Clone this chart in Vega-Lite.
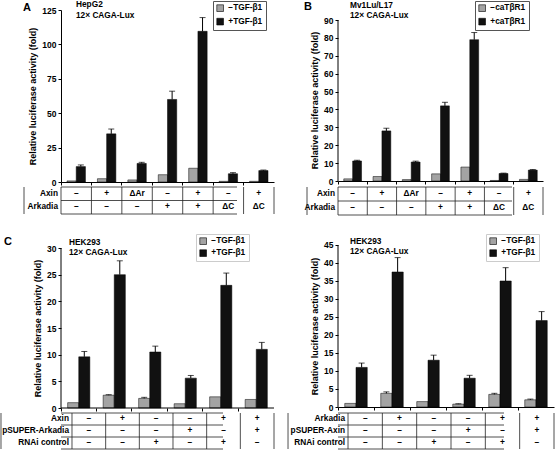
{
"$schema": "https://vega.github.io/schema/vega-lite/v6.json",
"padding": 0,
"config": {
  "font": "Liberation Sans",
  "view": {"stroke": null},
  "axis": {"labelFont": "Liberation Sans", "labelFontWeight": "bold", "labelFontSize": 8.5, "labelColor": "#000", "titleFont": "Liberation Sans", "titleFontWeight": "bold", "titleFontSize": 9, "titleColor": "#000", "domainColor": "#000", "tickColor": "#000", "tickSize": 3, "labelPadding": 2, "titlePadding": 4, "grid": false},
  "legend": {"title": null, "orient": "none", "symbolType": "square", "symbolSize": 45, "symbolStrokeColor": "#000", "symbolStrokeWidth": 0.6, "labelFont": "Liberation Sans", "labelFontSize": 8.3, "labelFontWeight": "bold", "labelColor": "#000", "labelOffset": 4, "padding": 3, "rowPadding": 3.5},
  "text": {"font": "Liberation Sans", "fontWeight": "bold", "fontSize": 8.3, "color": "#000"}
},
"columns": 2,
"align": "none",
"bounds": "flush",
"spacing": {"row": 5, "column": 55},
"resolve": {"scale": {"color": "independent", "x": "independent", "y": "independent", "xOffset": "independent"}, "legend": {"color": "independent"}},
"concat": [
 {
  "width": 213, "height": 172,
  "data": {"values": [
    {"g":"1","s":"−TGF-β1","v":0.8},
    {"g":"1","s":"+TGF-β1","v":11.2,"hi":12.4},
    {"g":"2","s":"−TGF-β1","v":2.4},
    {"g":"2","s":"+TGF-β1","v":35,"hi":38.5},
    {"g":"3","s":"−TGF-β1","v":1.5},
    {"g":"3","s":"+TGF-β1","v":13.5,"hi":14.3},
    {"g":"4","s":"−TGF-β1","v":5.3},
    {"g":"4","s":"+TGF-β1","v":60,"hi":66},
    {"g":"5","s":"−TGF-β1","v":10},
    {"g":"5","s":"+TGF-β1","v":109.5,"hi":119.5},
    {"g":"6","s":"−TGF-β1","v":0.5},
    {"g":"6","s":"+TGF-β1","v":6,"hi":6.8},
    {"g":"7","s":"−TGF-β1","v":0.5},
    {"g":"7","s":"+TGF-β1","v":8.3,"hi":8.7}
  ]},
  "layer": [
   {"mark": {"type": "bar", "stroke": "#000", "strokeWidth": 0.5},
    "encoding": {
      "x": {"field": "g", "type": "nominal", "sort": null, "scale": {"paddingInner": 0, "paddingOuter": 0}, "axis": {"title": null, "labels": false, "bandPosition": 0}},
      "xOffset": {"field": "s", "type": "nominal", "sort": ["−TGF-β1", "+TGF-β1"], "scale": {"paddingInner": 0, "paddingOuter": 0.65}},
      "y": {"field": "v", "type": "quantitative", "scale": {"domain": [0, 125], "nice": false}, "axis": {"values": [0, 25, 50, 75, 100, 125], "tickCount": 30, "labelOverlap": false, "title": "Relative luciferase activity (fold)"}},
      "color": {"field": "s", "type": "nominal", "scale": {"domain": ["−TGF-β1", "+TGF-β1"], "range": ["#a3a3a3", "#111111"]}, "legend": {"legendX": 152, "legendY": -9, "strokeColor": "#555"}}
    }},
   {"transform": [{"filter": "isValid(datum.hi)"}],
    "mark": {"type": "rule", "color": "#000", "strokeWidth": 1},
    "encoding": {"x": {"field": "g", "type": "nominal", "sort": null}, "xOffset": {"field": "s", "type": "nominal", "sort": ["−TGF-β1", "+TGF-β1"]}, "y": {"field": "v", "type": "quantitative"}, "y2": {"field": "hi"}}},
   {"transform": [{"filter": "isValid(datum.hi)"}],
    "mark": {"type": "tick", "color": "#000", "size": 6, "thickness": 1},
    "encoding": {"x": {"field": "g", "type": "nominal", "sort": null}, "xOffset": {"field": "s", "type": "nominal", "sort": ["−TGF-β1", "+TGF-β1"]}, "y": {"field": "hi", "type": "quantitative"}}},
   {"data": {"values": [{"t": "HepG2"}]},
    "mark": {"type": "text", "align": "left", "baseline": "middle", "dx": 15, "dy": -5},
    "encoding": {"x": {"datum": "1", "bandPosition": 0}, "y": {"datum": 125, "type": "quantitative"}, "text": {"field": "t"}}},
   {"data": {"values": [{"t": "12× CAGA-Lux"}]},
    "mark": {"type": "text", "align": "left", "baseline": "middle", "dx": 15, "dy": 6},
    "encoding": {"x": {"datum": "1", "bandPosition": 0}, "y": {"datum": 125, "type": "quantitative"}, "text": {"field": "t"}}},
   {"data": {"values": [{"t": "A"}]},
    "mark": {"type": "text", "align": "left", "baseline": "middle", "dx": -38, "dy": -2, "fontSize": 11},
    "encoding": {"x": {"datum": "1", "bandPosition": 0}, "y": {"datum": 125, "type": "quantitative"}, "text": {"field": "t"}}}
  ]
 },
 {
  "width": 205, "height": 171,
  "data": {"values": [
    {"g":"1","s":"−caTβR1","v":1.2},
    {"g":"1","s":"+caTβR1","v":11.2,"hi":11.6},
    {"g":"2","s":"−caTβR1","v":2.5},
    {"g":"2","s":"+caTβR1","v":28,"hi":29.5},
    {"g":"3","s":"−caTβR1","v":0.8},
    {"g":"3","s":"+caTβR1","v":10.6,"hi":11.1},
    {"g":"4","s":"−caTβR1","v":4},
    {"g":"4","s":"+caTβR1","v":42,"hi":44},
    {"g":"5","s":"−caTβR1","v":7.8},
    {"g":"5","s":"+caTβR1","v":79,"hi":83},
    {"g":"6","s":"−caTβR1","v":0.3},
    {"g":"6","s":"+caTβR1","v":4.2,"hi":4.4},
    {"g":"7","s":"−caTβR1","v":0.9},
    {"g":"7","s":"+caTβR1","v":6.1,"hi":6.4}
  ]},
  "layer": [
   {"mark": {"type": "bar", "stroke": "#000", "strokeWidth": 0.5},
    "encoding": {
      "x": {"field": "g", "type": "nominal", "sort": null, "scale": {"paddingInner": 0, "paddingOuter": 0}, "axis": {"title": null, "labels": false, "bandPosition": 0}},
      "xOffset": {"field": "s", "type": "nominal", "sort": ["−caTβR1", "+caTβR1"], "scale": {"paddingInner": 0, "paddingOuter": 0.65}},
      "y": {"field": "v", "type": "quantitative", "scale": {"domain": [0, 95.6], "nice": false}, "axis": {"values": [0, 10, 20, 30, 40, 50, 60, 70, 80, 90], "tickCount": 30, "labelOverlap": false, "domain": false, "title": "Relative luciferase activity (fold)", "titleY": 90}},
      "color": {"field": "s", "type": "nominal", "scale": {"domain": ["−caTβR1", "+caTβR1"], "range": ["#a3a3a3", "#111111"]}, "legend": {"legendX": 137, "legendY": -9, "strokeColor": "#555"}}
    }},
   {"data": {"values": [{}]},
    "mark": {"type": "rule", "color": "#000", "strokeWidth": 1},
    "encoding": {"x": {"datum": "1", "bandPosition": 0}, "y": {"datum": 0, "type": "quantitative"}, "y2": {"datum": 90}}},
   {"transform": [{"filter": "isValid(datum.hi)"}],
    "mark": {"type": "rule", "color": "#000", "strokeWidth": 1},
    "encoding": {"x": {"field": "g", "type": "nominal", "sort": null}, "xOffset": {"field": "s", "type": "nominal", "sort": ["−caTβR1", "+caTβR1"]}, "y": {"field": "v", "type": "quantitative"}, "y2": {"field": "hi"}}},
   {"transform": [{"filter": "isValid(datum.hi)"}],
    "mark": {"type": "tick", "color": "#000", "size": 6, "thickness": 1},
    "encoding": {"x": {"field": "g", "type": "nominal", "sort": null}, "xOffset": {"field": "s", "type": "nominal", "sort": ["−caTβR1", "+caTβR1"]}, "y": {"field": "hi", "type": "quantitative"}}},
   {"data": {"values": [{"t": "Mv1Lu/L17"}]},
    "mark": {"type": "text", "align": "left", "baseline": "middle", "dx": 12, "dy": -14},
    "encoding": {"x": {"datum": "1", "bandPosition": 0}, "y": {"datum": 90, "type": "quantitative"}, "text": {"field": "t"}}},
   {"data": {"values": [{"t": "12× CAGA-Lux"}]},
    "mark": {"type": "text", "align": "left", "baseline": "middle", "dx": 12, "dy": -4},
    "encoding": {"x": {"datum": "1", "bandPosition": 0}, "y": {"datum": 90, "type": "quantitative"}, "text": {"field": "t"}}},
   {"data": {"values": [{"t": "B"}]},
    "mark": {"type": "text", "align": "left", "baseline": "middle", "dx": -34, "dy": -13, "fontSize": 11},
    "encoding": {"x": {"datum": "1", "bandPosition": 0}, "y": {"datum": 90, "type": "quantitative"}, "text": {"field": "t"}}}
  ]
 },
 {
  "width": 213, "height": 27,
  "data": {"values": [
    {"g":"1","r":"Axin","t":"–"},{"g":"2","r":"Axin","t":"+"},{"g":"3","r":"Axin","t":"ΔAr"},{"g":"4","r":"Axin","t":"–"},{"g":"5","r":"Axin","t":"+"},{"g":"6","r":"Axin","t":"–"},{"g":"7","r":"Axin","t":"+"},
    {"g":"1","r":"Arkadia","t":"–"},{"g":"2","r":"Arkadia","t":"–"},{"g":"3","r":"Arkadia","t":"–"},{"g":"4","r":"Arkadia","t":"+"},{"g":"5","r":"Arkadia","t":"+"},{"g":"6","r":"Arkadia","t":"ΔC"},{"g":"7","r":"Arkadia","t":"ΔC"}
  ]},
  "layer": [
   {"mark": {"type": "text", "baseline": "middle"},
    "encoding": {"x": {"field": "g", "type": "nominal", "sort": null, "scale": {"paddingInner": 0, "paddingOuter": 0}, "axis": null}, "y": {"field": "r", "type": "nominal", "sort": null, "scale": {"paddingInner": 0, "paddingOuter": 0}, "axis": null}, "text": {"field": "t"}}},
   {"data": {"values": [{"r": "Axin"}, {"r": "Arkadia"}]},
    "mark": {"type": "text", "align": "right", "baseline": "middle", "dx": -3},
    "encoding": {"x": {"datum": "1", "bandPosition": 0}, "y": {"field": "r", "type": "nominal", "sort": null}, "text": {"field": "r"}}},
   {"data": {"values": [{"g":"1"},{"g":"2"},{"g":"3"},{"g":"4"},{"g":"5"},{"g":"6"},{"g":"7"}]},
    "mark": {"type": "rule", "color": "#222", "strokeWidth": 0.8},
    "encoding": {"x": {"field": "g", "type": "nominal", "sort": null, "bandPosition": 0}}},
   {"data": {"values": [{}]},
    "mark": {"type": "rule", "color": "#222", "strokeWidth": 0.8},
    "encoding": {"x": {"datum": "7", "bandPosition": 1}}},
   {"data": {"values": [{}]},
    "mark": {"type": "rule", "color": "#222", "strokeWidth": 0.8, "xOffset": -37},
    "encoding": {"x": {"datum": "1", "bandPosition": 0}}},
   {"data": {"values": [{"r": "Axin"}, {"r": "Arkadia"}]},
    "mark": {"type": "rule", "color": "#222", "strokeWidth": 0.8, "xOffset": -37},
    "encoding": {"y": {"field": "r", "type": "nominal", "sort": null, "bandPosition": 0}}},
   {"data": {"values": [{}]},
    "mark": {"type": "rule", "color": "#222", "strokeWidth": 0.8, "xOffset": -37},
    "encoding": {"y": {"datum": "Arkadia", "bandPosition": 1}}}
  ]
 },
 {
  "width": 205, "height": 28,
  "data": {"values": [
    {"g":"1","r":"Axin","t":"–"},{"g":"2","r":"Axin","t":"+"},{"g":"3","r":"Axin","t":"ΔAr"},{"g":"4","r":"Axin","t":"–"},{"g":"5","r":"Axin","t":"+"},{"g":"6","r":"Axin","t":"–"},{"g":"7","r":"Axin","t":"+"},
    {"g":"1","r":"Arkadia","t":"–"},{"g":"2","r":"Arkadia","t":"–"},{"g":"3","r":"Arkadia","t":"–"},{"g":"4","r":"Arkadia","t":"+"},{"g":"5","r":"Arkadia","t":"+"},{"g":"6","r":"Arkadia","t":"ΔC"},{"g":"7","r":"Arkadia","t":"ΔC"}
  ]},
  "layer": [
   {"mark": {"type": "text", "baseline": "middle"},
    "encoding": {"x": {"field": "g", "type": "nominal", "sort": null, "scale": {"paddingInner": 0, "paddingOuter": 0}, "axis": null}, "y": {"field": "r", "type": "nominal", "sort": null, "scale": {"paddingInner": 0, "paddingOuter": 0}, "axis": null}, "text": {"field": "t"}}},
   {"data": {"values": [{"r": "Axin"}, {"r": "Arkadia"}]},
    "mark": {"type": "text", "align": "right", "baseline": "middle", "dx": -3},
    "encoding": {"x": {"datum": "1", "bandPosition": 0}, "y": {"field": "r", "type": "nominal", "sort": null}, "text": {"field": "r"}}},
   {"data": {"values": [{"g":"1"},{"g":"2"},{"g":"3"},{"g":"4"},{"g":"5"},{"g":"6"},{"g":"7"}]},
    "mark": {"type": "rule", "color": "#222", "strokeWidth": 0.8},
    "encoding": {"x": {"field": "g", "type": "nominal", "sort": null, "bandPosition": 0}}},
   {"data": {"values": [{}]},
    "mark": {"type": "rule", "color": "#222", "strokeWidth": 0.8},
    "encoding": {"x": {"datum": "7", "bandPosition": 1}}},
   {"data": {"values": [{}]},
    "mark": {"type": "rule", "color": "#222", "strokeWidth": 0.8, "xOffset": -31},
    "encoding": {"x": {"datum": "1", "bandPosition": 0}}},
   {"data": {"values": [{"r": "Axin"}, {"r": "Arkadia"}]},
    "mark": {"type": "rule", "color": "#222", "strokeWidth": 0.8, "xOffset": -31},
    "encoding": {"y": {"field": "r", "type": "nominal", "sort": null, "bandPosition": 0}}},
   {"data": {"values": [{}]},
    "mark": {"type": "rule", "color": "#222", "strokeWidth": 0.8, "xOffset": -31},
    "encoding": {"y": {"datum": "Arkadia", "bandPosition": 1}}}
  ]
 },
 {
  "width": 222, "height": 188,
  "data": {"values": [
    {"g":"1","s":"−TGF-β1","v":1.0},
    {"g":"1","s":"+TGF-β1","v":9.6,"hi":10.6},
    {"g":"2","s":"−TGF-β1","v":2.4,"hi":2.5},
    {"g":"2","s":"+TGF-β1","v":25,"hi":27.6},
    {"g":"3","s":"−TGF-β1","v":1.8,"hi":2.0},
    {"g":"3","s":"+TGF-β1","v":10.5,"hi":11.6},
    {"g":"4","s":"−TGF-β1","v":0.8},
    {"g":"4","s":"+TGF-β1","v":5.6,"hi":6.1},
    {"g":"5","s":"−TGF-β1","v":2.1},
    {"g":"5","s":"+TGF-β1","v":23,"hi":25.3},
    {"g":"6","s":"−TGF-β1","v":1.6},
    {"g":"6","s":"+TGF-β1","v":11,"hi":12.3}
  ]},
  "layer": [
   {"mark": {"type": "bar", "stroke": "#000", "strokeWidth": 0.5},
    "encoding": {
      "x": {"field": "g", "type": "nominal", "sort": null, "scale": {"paddingInner": 0, "paddingOuter": 0.1268, "align": 0}, "axis": {"title": null, "labels": false, "bandPosition": 0, "domain": false}},
      "xOffset": {"field": "s", "type": "nominal", "sort": ["−TGF-β1", "+TGF-β1"], "scale": {"paddingInner": 0, "paddingOuter": 0.6}},
      "y": {"field": "v", "type": "quantitative", "scale": {"domain": [0, 35.25], "nice": false}, "axis": {"values": [0, 5, 10, 15, 20, 25, 30], "tickCount": 30, "labelOverlap": false, "domain": false, "title": "Relative luciferase activity (fold)", "titleY": 108}},
      "color": {"field": "s", "type": "nominal", "scale": {"domain": ["−TGF-β1", "+TGF-β1"], "range": ["#a3a3a3", "#111111"]}, "legend": {"legendX": 135, "legendY": 14, "rowPadding": 2, "strokeColor": "#cccccc"}}
    }},
   {"data": {"values": [{}]},
    "mark": {"type": "rule", "color": "#000", "strokeWidth": 1},
    "encoding": {"x": {"datum": "1", "bandPosition": 0}, "y": {"datum": 0, "type": "quantitative"}, "y2": {"datum": 30}}},
   {"data": {"values": [{}]},
    "mark": {"type": "rule", "color": "#000", "strokeWidth": 1},
    "encoding": {"x": {"datum": "1", "bandPosition": 0}, "x2": {"datum": "6", "bandPosition": 1}, "y": {"datum": 0, "type": "quantitative"}}},
   {"transform": [{"filter": "isValid(datum.hi)"}],
    "mark": {"type": "rule", "color": "#000", "strokeWidth": 1},
    "encoding": {"x": {"field": "g", "type": "nominal", "sort": null}, "xOffset": {"field": "s", "type": "nominal", "sort": ["−TGF-β1", "+TGF-β1"]}, "y": {"field": "v", "type": "quantitative"}, "y2": {"field": "hi"}}},
   {"transform": [{"filter": "isValid(datum.hi)"}],
    "mark": {"type": "tick", "color": "#000", "size": 6, "thickness": 1},
    "encoding": {"x": {"field": "g", "type": "nominal", "sort": null}, "xOffset": {"field": "s", "type": "nominal", "sort": ["−TGF-β1", "+TGF-β1"]}, "y": {"field": "hi", "type": "quantitative"}}},
   {"data": {"values": [{"t": "HEK293"}]},
    "mark": {"type": "text", "align": "left", "baseline": "middle", "dx": 8, "dy": -5},
    "encoding": {"x": {"datum": "1", "bandPosition": 0}, "y": {"datum": 30, "type": "quantitative"}, "text": {"field": "t"}}},
   {"data": {"values": [{"t": "12× CAGA-Lux"}]},
    "mark": {"type": "text", "align": "left", "baseline": "middle", "dx": 8, "dy": 5},
    "encoding": {"x": {"datum": "1", "bandPosition": 0}, "y": {"datum": 30, "type": "quantitative"}, "text": {"field": "t"}}},
   {"data": {"values": [{"t": "C"}]},
    "mark": {"type": "text", "align": "left", "baseline": "middle", "dx": -57, "dy": -6, "fontSize": 11},
    "encoding": {"x": {"datum": "1", "bandPosition": 0}, "y": {"datum": 30, "type": "quantitative"}, "text": {"field": "t"}}}
  ]
 },
 {
  "width": 216, "height": 187,
  "data": {"values": [
    {"g":"1","s":"−TGF-β1","v":1.0},
    {"g":"1","s":"+TGF-β1","v":11,"hi":12.2},
    {"g":"2","s":"−TGF-β1","v":3.8,"hi":4.2},
    {"g":"2","s":"+TGF-β1","v":37.5,"hi":41.5},
    {"g":"3","s":"−TGF-β1","v":1.5},
    {"g":"3","s":"+TGF-β1","v":13,"hi":14.4},
    {"g":"4","s":"−TGF-β1","v":0.8,"hi":0.9},
    {"g":"4","s":"+TGF-β1","v":8,"hi":8.8},
    {"g":"5","s":"−TGF-β1","v":3.5,"hi":3.8},
    {"g":"5","s":"+TGF-β1","v":35,"hi":38.7},
    {"g":"6","s":"−TGF-β1","v":2.0,"hi":2.2},
    {"g":"6","s":"+TGF-β1","v":24,"hi":26.5}
  ]},
  "layer": [
   {"mark": {"type": "bar", "stroke": "#000", "strokeWidth": 0.5},
    "encoding": {
      "x": {"field": "g", "type": "nominal", "sort": null, "scale": {"paddingInner": 0, "paddingOuter": 0}, "axis": {"title": null, "labels": false, "bandPosition": 0}},
      "xOffset": {"field": "s", "type": "nominal", "sort": ["−TGF-β1", "+TGF-β1"], "scale": {"paddingInner": 0, "paddingOuter": 0.6}},
      "y": {"field": "v", "type": "quantitative", "scale": {"domain": [0, 51.94], "nice": false}, "axis": {"values": [0, 5, 10, 15, 20, 25, 30, 35, 40, 45], "tickCount": 30, "labelOverlap": false, "domain": false, "title": "Relative luciferase activity (fold)", "titleY": 106}},
      "color": {"field": "s", "type": "nominal", "scale": {"domain": ["−TGF-β1", "+TGF-β1"], "range": ["#a3a3a3", "#111111"]}, "legend": {"legendX": 148, "legendY": 14, "rowPadding": 2, "strokeColor": "#cccccc"}}
    }},
   {"data": {"values": [{}]},
    "mark": {"type": "rule", "color": "#000", "strokeWidth": 1},
    "encoding": {"x": {"datum": "1", "bandPosition": 0}, "y": {"datum": 0, "type": "quantitative"}, "y2": {"datum": 45}}},
   {"transform": [{"filter": "isValid(datum.hi)"}],
    "mark": {"type": "rule", "color": "#000", "strokeWidth": 1},
    "encoding": {"x": {"field": "g", "type": "nominal", "sort": null}, "xOffset": {"field": "s", "type": "nominal", "sort": ["−TGF-β1", "+TGF-β1"]}, "y": {"field": "v", "type": "quantitative"}, "y2": {"field": "hi"}}},
   {"transform": [{"filter": "isValid(datum.hi)"}],
    "mark": {"type": "tick", "color": "#000", "size": 6, "thickness": 1},
    "encoding": {"x": {"field": "g", "type": "nominal", "sort": null}, "xOffset": {"field": "s", "type": "nominal", "sort": ["−TGF-β1", "+TGF-β1"]}, "y": {"field": "hi", "type": "quantitative"}}},
   {"data": {"values": [{"t": "HEK293"}]},
    "mark": {"type": "text", "align": "left", "baseline": "middle", "dx": 12, "dy": -3},
    "encoding": {"x": {"datum": "1", "bandPosition": 0}, "y": {"datum": 45, "type": "quantitative"}, "text": {"field": "t"}}},
   {"data": {"values": [{"t": "12× CAGA-Lux"}]},
    "mark": {"type": "text", "align": "left", "baseline": "middle", "dx": 12, "dy": 7},
    "encoding": {"x": {"datum": "1", "bandPosition": 0}, "y": {"datum": 45, "type": "quantitative"}, "text": {"field": "t"}}}
  ]
 },
 {
  "width": 222, "height": 36,
  "data": {"values": [
    {"g":"1","r":"Axin","t":"–"},{"g":"2","r":"Axin","t":"+"},{"g":"3","r":"Axin","t":"–"},{"g":"4","r":"Axin","t":"–"},{"g":"5","r":"Axin","t":"+"},{"g":"6","r":"Axin","t":"+"},
    {"g":"1","r":"pSUPER-Arkadia","t":"–"},{"g":"2","r":"pSUPER-Arkadia","t":"–"},{"g":"3","r":"pSUPER-Arkadia","t":"–"},{"g":"4","r":"pSUPER-Arkadia","t":"+"},{"g":"5","r":"pSUPER-Arkadia","t":"–"},{"g":"6","r":"pSUPER-Arkadia","t":"+"},
    {"g":"1","r":"RNAi control","t":"–"},{"g":"2","r":"RNAi control","t":"–"},{"g":"3","r":"RNAi control","t":"+"},{"g":"4","r":"RNAi control","t":"–"},{"g":"5","r":"RNAi control","t":"+"},{"g":"6","r":"RNAi control","t":"–"}
  ]},
  "layer": [
   {"mark": {"type": "text", "baseline": "middle"},
    "encoding": {"x": {"field": "g", "type": "nominal", "sort": null, "scale": {"paddingInner": 0, "paddingOuter": 0.297, "align": 0.55}, "axis": null}, "y": {"field": "r", "type": "nominal", "sort": null, "scale": {"paddingInner": 0, "paddingOuter": 0}, "axis": null}, "text": {"field": "t"}}},
   {"data": {"values": [{"r": "Axin"}, {"r": "pSUPER-Arkadia"}, {"r": "RNAi control"}]},
    "mark": {"type": "text", "align": "right", "baseline": "middle", "dx": -3},
    "encoding": {"x": {"datum": "1", "bandPosition": 0}, "y": {"field": "r", "type": "nominal", "sort": null}, "text": {"field": "r"}}},
   {"data": {"values": [{"g":"1"},{"g":"2"},{"g":"3"},{"g":"4"},{"g":"5"},{"g":"6"}]},
    "mark": {"type": "rule", "color": "#222", "strokeWidth": 0.8},
    "encoding": {"x": {"field": "g", "type": "nominal", "sort": null, "bandPosition": 0}}},
   {"data": {"values": [{}]},
    "mark": {"type": "rule", "color": "#222", "strokeWidth": 0.8},
    "encoding": {"x": {"datum": "6", "bandPosition": 1}}},
   {"data": {"values": [{}]},
    "mark": {"type": "rule", "color": "#222", "strokeWidth": 0.8, "xOffset": -71},
    "encoding": {"x": {"datum": "1", "bandPosition": 0}}},
   {"data": {"values": [{"r": "Axin"}, {"r": "pSUPER-Arkadia"}, {"r": "RNAi control"}]},
    "mark": {"type": "rule", "color": "#222", "strokeWidth": 0.8, "xOffset": -60, "x2Offset": -9},
    "encoding": {"y": {"field": "r", "type": "nominal", "sort": null, "bandPosition": 0}}},
   {"data": {"values": [{}]},
    "mark": {"type": "rule", "color": "#222", "strokeWidth": 0.8, "xOffset": -60, "x2Offset": -9},
    "encoding": {"y": {"datum": "RNAi control", "bandPosition": 1}}}
  ]
 },
 {
  "width": 216, "height": 36,
  "data": {"values": [
    {"g":"1","r":"Arkadia","t":"–"},{"g":"2","r":"Arkadia","t":"+"},{"g":"3","r":"Arkadia","t":"–"},{"g":"4","r":"Arkadia","t":"–"},{"g":"5","r":"Arkadia","t":"+"},{"g":"6","r":"Arkadia","t":"+"},
    {"g":"1","r":"pSUPER-Axin","t":"–"},{"g":"2","r":"pSUPER-Axin","t":"–"},{"g":"3","r":"pSUPER-Axin","t":"–"},{"g":"4","r":"pSUPER-Axin","t":"+"},{"g":"5","r":"pSUPER-Axin","t":"–"},{"g":"6","r":"pSUPER-Axin","t":"+"},
    {"g":"1","r":"RNAi control","t":"–"},{"g":"2","r":"RNAi control","t":"–"},{"g":"3","r":"RNAi control","t":"+"},{"g":"4","r":"RNAi control","t":"–"},{"g":"5","r":"RNAi control","t":"+"},{"g":"6","r":"RNAi control","t":"–"}
  ]},
  "layer": [
   {"mark": {"type": "text", "baseline": "middle"},
    "encoding": {"x": {"field": "g", "type": "nominal", "sort": null, "scale": {"paddingInner": 0, "paddingOuter": 0.146, "align": 1}, "axis": null}, "y": {"field": "r", "type": "nominal", "sort": null, "scale": {"paddingInner": 0, "paddingOuter": 0}, "axis": null}, "text": {"field": "t"}}},
   {"data": {"values": [{"r": "Arkadia"}, {"r": "pSUPER-Axin"}, {"r": "RNAi control"}]},
    "mark": {"type": "text", "align": "right", "baseline": "middle", "dx": -3},
    "encoding": {"x": {"datum": "1", "bandPosition": 0}, "y": {"field": "r", "type": "nominal", "sort": null}, "text": {"field": "r"}}},
   {"data": {"values": [{"g":"1"},{"g":"2"},{"g":"3"},{"g":"4"},{"g":"5"},{"g":"6"}]},
    "mark": {"type": "rule", "color": "#222", "strokeWidth": 0.8},
    "encoding": {"x": {"field": "g", "type": "nominal", "sort": null, "bandPosition": 0}}},
   {"data": {"values": [{}]},
    "mark": {"type": "rule", "color": "#222", "strokeWidth": 0.8},
    "encoding": {"x": {"datum": "6", "bandPosition": 1}}},
   {"data": {"values": [{}]},
    "mark": {"type": "rule", "color": "#222", "strokeWidth": 0.8, "xOffset": -60},
    "encoding": {"x": {"datum": "1", "bandPosition": 0}}},
   {"data": {"values": [{"r": "Arkadia"}, {"r": "pSUPER-Axin"}, {"r": "RNAi control"}]},
    "mark": {"type": "rule", "color": "#222", "strokeWidth": 0.8, "xOffset": -50},
    "encoding": {"y": {"field": "r", "type": "nominal", "sort": null, "bandPosition": 0}}},
   {"data": {"values": [{}]},
    "mark": {"type": "rule", "color": "#222", "strokeWidth": 0.8, "xOffset": -50},
    "encoding": {"y": {"datum": "RNAi control", "bandPosition": 1}}}
  ]
 }
]
}
